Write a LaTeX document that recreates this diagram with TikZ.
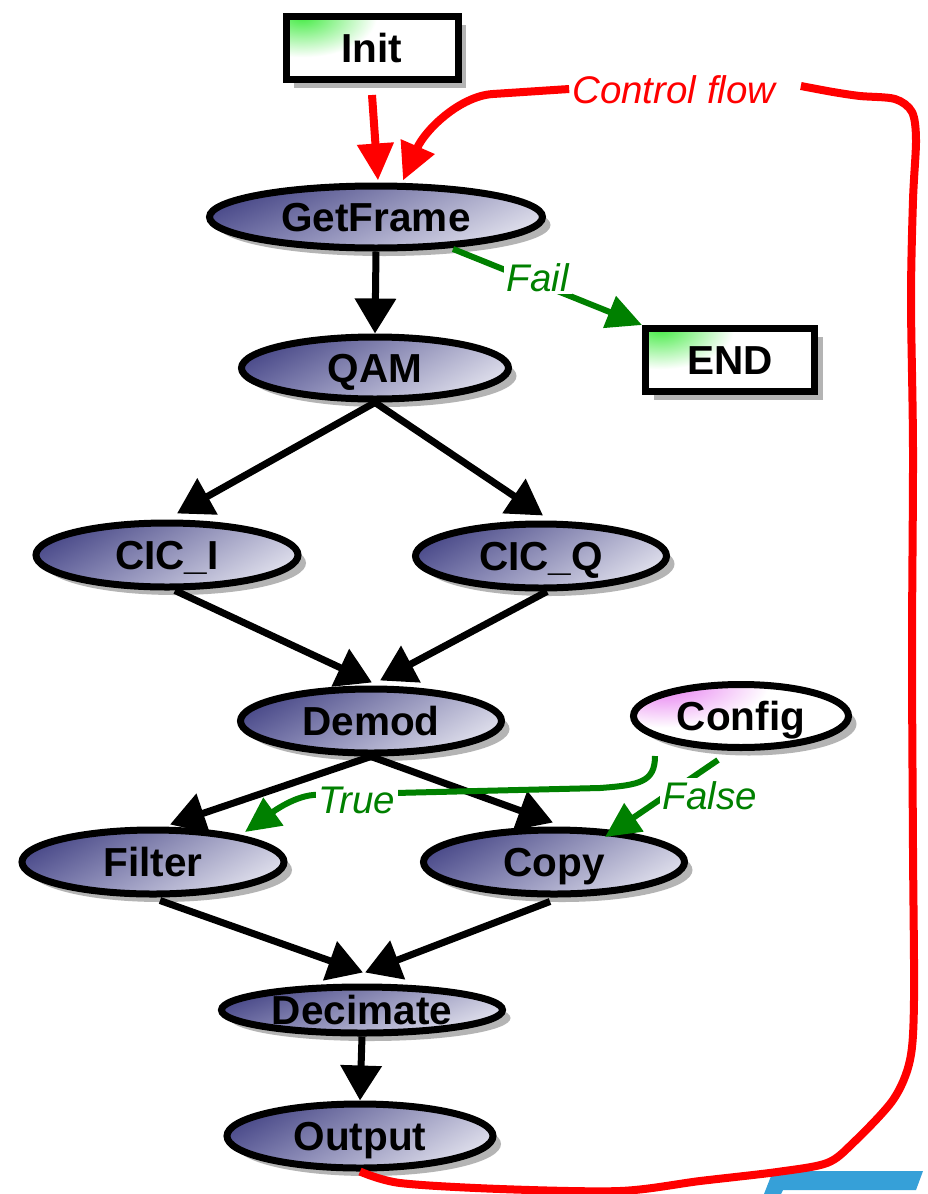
\documentclass[tikz,border=0pt]{standalone}
\usepackage{fontspec}
\setmainfont{Liberation Sans}
\usetikzlibrary{shapes.geometric, arrows.meta, shadows, shadings, calc}

\definecolor{procUL}{RGB}{50,50,120}
\definecolor{procLL}{RGB}{110,110,165}
\definecolor{procUR}{RGB}{190,190,215}
\definecolor{procLR}{RGB}{246,246,250}
\definecolor{flowGreen}{RGB}{0,128,0}
\definecolor{cornerGreen}{RGB}{70,235,70}
\definecolor{cornerPink}{RGB}{230,120,240}
\definecolor{shadowGray}{RGB}{180,180,180}
\definecolor{barBlue}{RGB}{54,160,216}

% soft glow used in the top-left corner of the terminals and the parameter node
\pgfdeclareradialshading{greenglow}{\pgfpoint{0bp}{0bp}}{color(0bp)=(cornerGreen); color(12bp)=(white); color(50bp)=(white)}
\pgfdeclareradialshading{pinkglow}{\pgfpoint{0bp}{0bp}}{color(0bp)=(cornerPink); color(12bp)=(white); color(50bp)=(white)}

\begin{document}
\begin{tikzpicture}[x=1pt, y=-1pt,
  shadowed/.style={drop shadow={shadow xshift=8pt, shadow yshift=-8pt, fill=shadowGray, opacity=1}},
  nodefont/.style={font=\fontsize{40.5}{46}\selectfont\bfseries, text height=29pt, text depth=0pt},
  proc/.style={ellipse, draw=black, line width=7pt, inner sep=0pt, minimum height=64pt,
    upper left=procUL, lower left=procLL, upper right=procUR, lower right=procLR, shadowed, nodefont},
  term/.style={rectangle, draw=black, line width=7pt, fill=white, inner sep=0pt,
    minimum width=172pt, minimum height=63pt, shadowed, nodefont,
    path picture={\shade[shading=greenglow]
      (path picture bounding box.north west) ellipse [x radius=140, y radius=85];}},
  param/.style={ellipse, draw=black, line width=7pt, fill=white, inner sep=0pt,
    minimum width=215pt, minimum height=63pt, shadowed, nodefont,
    path picture={\shade[shading=pinkglow]
      ($(path picture bounding box.north west)+(30,0)$) ellipse [x radius=220, y radius=90];}},
  flow/.style={draw=black, line width=7pt, -{Triangle[length=35pt, width=40pt]}},
  greenflow/.style={draw=flowGreen, line width=6pt, -{Triangle[length=35pt, width=33pt]}},
  redline/.style={draw=red, line width=8pt},
  redflow/.style={redline, -{Triangle[length=37pt, width=35pt]}},
  lbl/.style={font=\fontsize{38.5}{44}\selectfont\itshape, text height=28pt, text depth=0pt, inner sep=3pt}
]
\useasboundingbox (0,0) rectangle (927,1194);
\fill[white] (0,0) rectangle (927,1194);

% corner of the blue bar peeking in at the bottom
\fill[barBlue] (773,1171) -- (923,1171) -- (916,1190) -- (783,1190) -- (781,1194) -- (764,1194) -- cycle;

% terminals
\node[term] (Init) at (372,48) {Init};
\node[term, minimum width=169pt] (END) at (730,360) {END};

% processing stages
\node[proc, minimum width=333pt, minimum height=62pt] (GetFrame) at (376,217) {GetFrame};
\node[proc, minimum width=267pt, minimum height=62pt] (QAM) at (375,368) {QAM};
\node[proc, minimum width=262pt] (CIC_I) at (167,555) {CIC\_I};
\node[proc, minimum width=251pt] (CIC_Q) at (541,556) {CIC\_Q};
\node[proc, minimum width=261pt] (Demod) at (371,721) {Demod};
\node[param] (Config) at (741,716) {Config};
\node[proc, minimum width=262pt] (Filter) at (153,862) {Filter};
\node[proc, minimum width=261pt] (Copy) at (554,862) {Copy};
\node[proc, minimum width=281pt, minimum height=46pt] (Decimate) at (362,1010) {Decimate};
\node[proc, minimum width=266pt] (Output) at (360,1136) {Output};

% data flow
\draw[flow] (GetFrame.south) -- (QAM.north);
\draw[flow] (QAM.south) -- ($(CIC_I.north)+(10,-6)$);
\draw[flow] (QAM.south) -- ($(CIC_Q.north)+(2,-5)$);
\draw[flow] ($(CIC_I.south)+(8,0)$) -- ($(Demod.north)+(1,-3)$);
\draw[flow] ($(CIC_Q.south)+(6,0)$) -- ($(Demod.north)+(9,-5)$);
\draw[flow] (Demod.south) -- ($(Filter.north)+(17,-2)$);
\draw[flow] (Demod.south) -- ($(Copy.north)+(-1,-4)$);
\draw[flow] ($(Filter.south)+(7,3)$) -- ($(Decimate.north)+(1,-11)$);
\draw[flow] ($(Copy.south)+(-4,4)$) -- ($(Decimate.north)+(3,-11)$);
\draw[flow] (Decimate.south) -- (Output.north);

% conditional branches
\draw[greenflow] ($(GetFrame.center)+(77,32)$) -- (END.north west);
\node[lbl, text=flowGreen, fill=white] (lblFail) at (538,277) {Fail};

\draw[greenflow] ($(Config.center)+(-86,40)$) .. controls +(0,26) and +(40,-3) .. (600,788)
  -- (313,795) .. controls (292,797) and (270,814) .. ($(Filter.center)+(92,-30)$);
\node[lbl, text=flowGreen, fill=white] (lblTrue) at (357,799) {True};

\draw[greenflow] ($(Config.center)+(-23,44)$) -- ($(Copy.center)+(51,-25)$);
\node[lbl, text=flowGreen, fill=white] (lblFalse) at (710,795) {False};

% control flow loop
\draw[redflow] ($(Init.south)+(0,12)$) -- ($(GetFrame.north)+(2,-2)$);
\node[lbl, text=red] (lblCF) at (674,89) {Control flow};
\draw[redline] plot[smooth, tension=0.5] coordinates {(Output.south) (400,1183) (500,1189) (620,1191)
  (700,1181) (777,1172) (827,1163) (853,1143) (893,1100) (910,1060) (914,1000) (913,850)
  (912,650) (913,450) (911,300) (913,200) (916,140) (912,112) (895,99) (860,96) (833,92)
  ($(lblCF.east)+(22,-3)$)};
\draw[redflow] (lblCF.west) -- (493,94) .. controls (460,96) and (425,130) .. ($(GetFrame.north)+(27,-2)$);
\end{tikzpicture}
\end{document}
